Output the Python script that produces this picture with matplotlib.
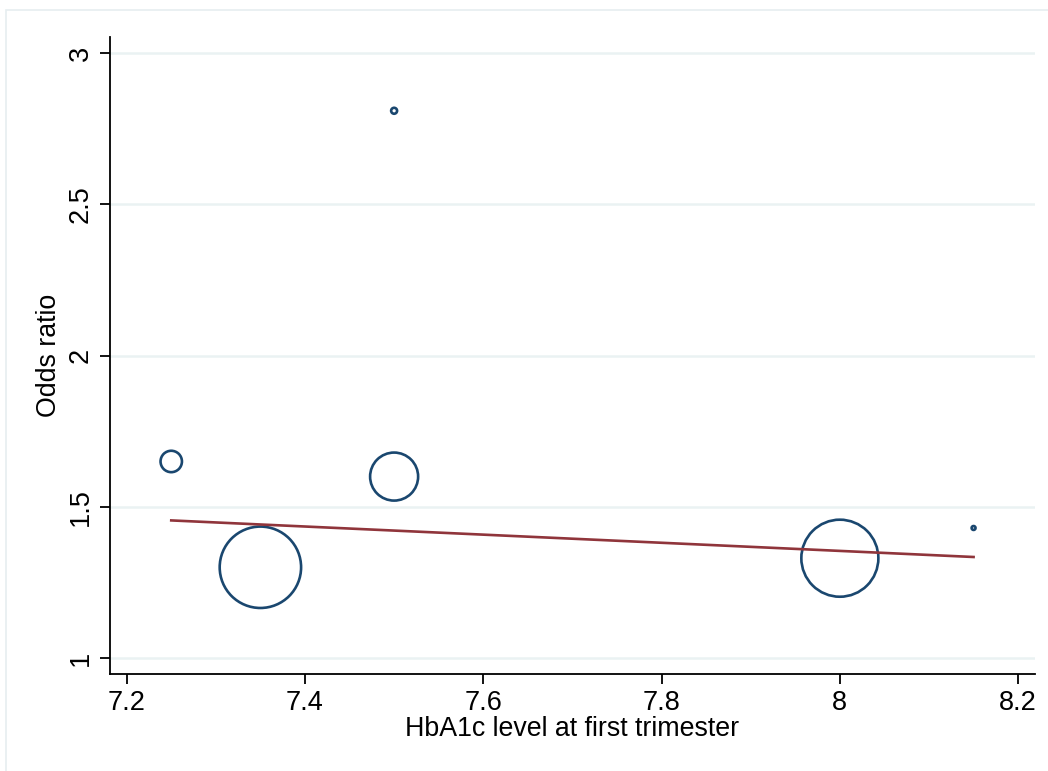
import numpy as np
import matplotlib
matplotlib.use("Agg")
import matplotlib.pyplot as plt
from matplotlib.patches import Rectangle

# Study-level odds ratios by mean first-trimester HbA1c
hba1c = [7.25, 7.35, 7.50, 7.50, 8.00, 8.15]
odds_ratio = [1.65, 1.30, 2.81, 1.60, 1.33, 1.43]
study_weight = [2.98, 43.1, 0.23, 15.0, 38.6, 0.10]  # relative weight (%)

# Meta-regression fitted line
fit_x = [7.25, 8.15]
fit_y = [1.455, 1.334]

x_ticks = [7.2, 7.4, 7.6, 7.8, 8.0, 8.2]
x_tick_labels = ["7.2", "7.4", "7.6", "7.8", "8", "8.2"]
y_ticks = [1, 1.5, 2, 2.5, 3]
y_tick_labels = ["1", "1.5", "2", "2.5", "3"]

navy = "#1a476f"
maroon = "#90353b"
grid_col = "#eaf2f3"

plt.rcParams["font.family"] = ["Liberation Sans", "DejaVu Sans"]

W, H, DPI = 1048, 771, 100
fig = plt.figure(figsize=(W / DPI, H / DPI), dpi=DPI)
fig.patch.set_facecolor("white")

# light frame around the graph region
fig.add_artist(Rectangle((6 / W, -0.05), 1.2, 1 - 10 / H + 0.05,
                         transform=fig.transFigure, fill=False,
                         edgecolor="#e6eef0", linewidth=1.2, clip_on=False))

ax = fig.add_axes([110 / W, 1 - 674 / H, (1035 - 110) / W, (674 - 37) / H])
ax.set_xlim(7.1813, 8.2189)
ax.set_ylim(0.947, 3.054)

# bubbles: area proportional to study weight
w = np.asarray(study_weight)
r_px = 40.7 * np.sqrt(w / max(w))
diam_pt = 2 * r_px * 72 / DPI
ax.scatter(hba1c, odds_ratio, s=diam_pt ** 2, facecolors="none",
           edgecolors=navy, linewidths=1.9, zorder=3)

ax.plot(fit_x, fit_y, color=maroon, linewidth=1.9, zorder=4)

for yv in y_ticks:
    ax.axhline(yv, color=grid_col, linewidth=1.8, zorder=1)

ax.set_xticks(x_ticks)
ax.set_xticklabels(x_tick_labels, fontsize=19.5)
ax.set_yticks(y_ticks)
ax.set_yticklabels(y_tick_labels, fontsize=19.5, rotation=90, va="center")
ax.tick_params(axis="both", length=7.5, width=1.3, color="black", pad=4)

for side in ("top", "right"):
    ax.spines[side].set_visible(False)
for side in ("left", "bottom"):
    ax.spines[side].set_linewidth(1.3)
    ax.spines[side].set_color("black")

ax.set_xlabel("HbA1c level at first trimester", fontsize=19.3, labelpad=0)
ax.set_ylabel("Odds ratio", fontsize=19.3, labelpad=4)

fig.savefig("out.png", dpi=DPI)
